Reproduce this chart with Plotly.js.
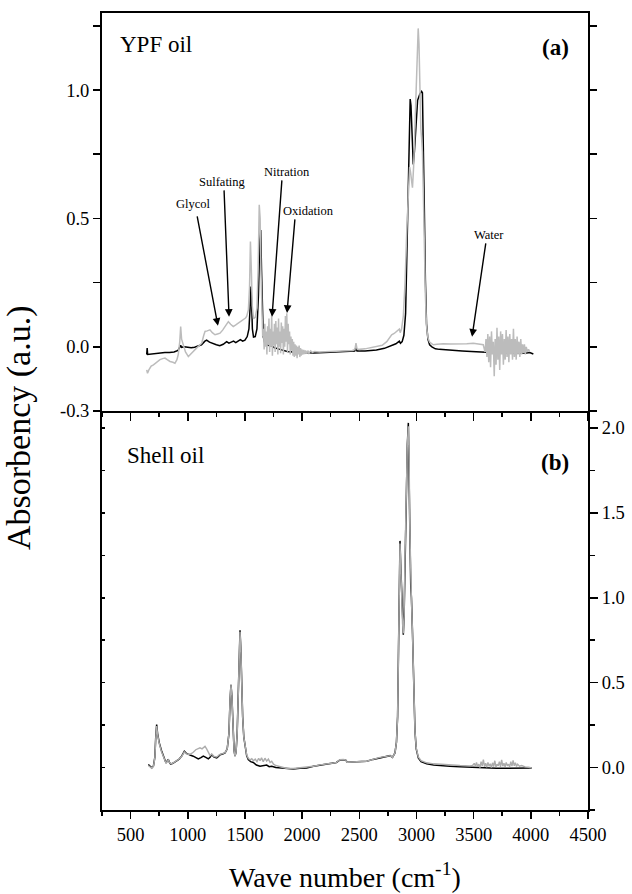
<!DOCTYPE html>
<html>
<head>
<meta charset="utf-8">
<script src="https://cdn.plot.ly/plotly-3.0.1.min.js"></script>
<style>html,body{margin:0;padding:0;background:#fff;}#chart{width:632px;height:894px;}</style>
</head>
<body>
<div id="chart"></div>
<script>
// ---------- Panel (a): YPF oil ----------
const ypfBlackW = [641,645,649,680,720,760,800,840,880,915,930,938,945,970,1000,1030,1060,1090,1120,1150,1165,1190,1220,1250,1280,1310,1340,1360,1380,1400,1420,1445,1460,1480,1500,1520,1535,1545,1552,1558,1565,1575,1590,1605,1618,1630,1638,1645,1652,1660,1675,1700,1730,1760,1790,1830,1870,1920,2000,2100,2200,2300,2400,2460,2470,2480,2550,2650,2720,2780,2820,2850,2860,2875,2890,2905,2920,2935,2945,2952,2962,2972,2982,2995,3010,3030,3045,3052,3060,3068,3078,3088,3100,3115,3135,3165,3200,3250,3320,3400,3480,3560,3650,3750,3850,3950,3990,4022];
const ypfBlackA = [-0.030,-0.005,-0.030,-0.028,-0.026,-0.024,-0.022,-0.022,-0.020,-0.014,-0.004,0.006,-0.002,0.000,-0.002,-0.004,-0.002,0.002,0.008,0.022,0.026,0.018,0.012,0.008,0.004,0.010,0.020,0.014,0.018,0.022,0.016,0.024,0.028,0.022,0.026,0.040,0.070,0.150,0.235,0.180,0.070,0.038,0.040,0.070,0.200,0.420,0.455,0.300,0.120,0.040,0.012,0.006,0.004,-0.004,-0.008,-0.014,-0.018,-0.020,-0.022,-0.024,-0.022,-0.020,-0.019,-0.016,-0.004,-0.016,-0.016,-0.012,-0.006,0.004,0.012,0.022,0.014,0.020,0.045,0.130,0.420,0.780,0.965,0.940,0.780,0.710,0.760,0.880,0.960,0.985,0.995,0.990,0.820,0.560,0.260,0.090,0.030,0.008,0.000,-0.008,-0.010,-0.012,-0.014,-0.016,-0.018,-0.021,-0.022,-0.023,-0.024,-0.025,-0.022,-0.028];

const ypfGrayW = [641,648,660,680,700,720,740,757,780,801,820,845,870,888,905,917,930,938,946,961,980,1005,1025,1048,1070,1092,1110,1122,1140,1151,1170,1194,1215,1238,1260,1282,1305,1326,1340,1355,1375,1398,1420,1442,1465,1486,1505,1515,1530,1540,1548,1556,1564,1575,1590,1605,1615,1625,1633,1640,1648,1655,
1662,1668,1674,1680,1686,1692,1698,1704,1710,1716,1722,1728,1734,1740,1746,1752,1758,1764,1770,1776,1782,1788,1794,1800,1806,1812,1818,1824,1830,1836,1842,1848,1854,1860,1866,1872,1878,1884,1890,1896,1902,1908,1914,1920,1926,1932,1938,1944,1950,1956,1962,1968,1974,1980,1986,1992,1998,2006,2014,2022,2030,2040,2050,2060,2075,2090,2110,2150,2200,2250,2300,2350,2400,2440,2462,2471,2480,2500,2550,2600,2650,2700,2740,2765,2783,2805,2827,2840,2850,2858,2870,2885,2900,2915,2930,2940,2948,2956,2965,2975,2985,2995,3005,3015,3022,3030,3038,3045,3052,3060,3068,3078,3088,3100,3115,3135,3147,3180,3235,3300,3381,3440,3497,3540,3584,
3600,3608,3616,3624,3632,3640,3648,3656,3664,3672,3680,3688,3696,3704,3712,3720,3728,3736,3744,3752,3760,3768,3776,3784,3792,3800,3808,3816,3824,3832,3840,3848,3856,3864,3872,3880,3888,3896,3904,3912,3920,3928,3936,3944,3952,3960,3970,3980,3990];
const ypfGrayA = [-0.090,-0.103,-0.090,-0.075,-0.070,-0.062,-0.055,-0.050,-0.046,-0.044,-0.050,-0.057,-0.060,-0.064,-0.050,-0.030,0.020,0.079,0.030,0.008,-0.020,-0.038,-0.030,-0.018,-0.008,0.001,0.010,0.014,0.045,0.060,0.062,0.066,0.055,0.047,0.050,0.053,0.065,0.079,0.090,0.098,0.088,0.079,0.085,0.092,0.098,0.105,0.112,0.118,0.144,0.230,0.410,0.300,0.160,0.110,0.115,0.150,0.300,0.553,0.500,0.300,0.120,0.040,
0.070,-0.010,0.090,0.000,0.060,-0.030,0.080,0.010,0.110,-0.020,0.070,0.000,0.125,-0.035,0.060,0.005,0.090,-0.020,0.100,0.010,0.075,-0.030,0.110,0.000,0.060,-0.025,0.095,0.015,0.080,-0.030,0.070,0.000,0.120,0.020,0.131,-0.020,0.090,0.010,0.060,-0.030,0.040,-0.015,0.030,-0.035,0.020,-0.040,0.010,-0.035,0.005,-0.044,0.000,-0.030,0.005,-0.040,-0.005,-0.035,-0.010,-0.030,-0.012,-0.028,-0.014,-0.026,-0.015,-0.025,-0.016,-0.022,-0.018,-0.020,-0.019,-0.018,-0.018,-0.016,-0.016,-0.014,-0.010,0.014,-0.008,-0.010,-0.008,-0.004,0.000,0.006,0.020,0.035,0.047,0.052,0.060,0.062,0.069,0.055,0.070,0.120,0.250,0.450,0.600,0.700,0.680,0.640,0.620,0.700,0.850,1.000,1.150,1.240,1.180,0.980,0.850,0.810,0.760,0.600,0.400,0.200,0.080,0.035,0.018,0.010,0.008,0.010,0.012,0.011,0.010,0.012,0.014,0.012,0.008,
-0.020,0.030,-0.040,0.050,-0.060,0.040,-0.080,0.060,-0.030,0.020,-0.115,0.030,-0.070,0.074,-0.050,0.040,-0.090,0.060,-0.030,0.050,-0.070,0.030,-0.050,0.065,-0.040,0.040,-0.060,0.050,-0.030,0.030,-0.050,0.070,-0.040,0.030,-0.050,0.040,-0.030,0.020,-0.040,0.030,-0.030,0.010,-0.025,0.010,-0.030,0.000,-0.020,-0.010,-0.020];

// ---------- Panel (b): Shell oil ----------
const shellBlackW = [655,670,685,700,712,720,728,736,751,770,786,800,810,822,830,840,850,870,903,925,947,962,970,985,1005,1025,1048,1070,1092,1115,1136,1158,1180,1195,1210,1230,1253,1268,1282,1305,1326,1345,1360,1370,1378,1386,1395,1405,1413,1422,1432,1442,1450,1457,1464,1472,1480,1490,1500,1515,1529,1550,1573,1600,1632,1660,1690,1712,1734,1770,1807,1860,1923,1981,2040,2100,2156,2220,2273,2300,2331,2360,2380,2395,2450,2500,2565,2620,2681,2740,2769,2790,2812,2825,2835,2843,2850,2856,2862,2870,2878,2885,2892,2900,2910,2920,2929,2936,2942,2950,2956,2965,2972,2978,2987,2998,3016,3040,3089,3150,3220,3293,3380,3468,3556,3620,3700,3800,3900,4008];
const shellBlackA = [0.018,0.010,-0.002,0.010,0.060,0.180,0.253,0.200,0.145,0.100,0.067,0.040,0.027,0.040,0.047,0.030,0.020,0.025,0.037,0.050,0.067,0.090,0.096,0.085,0.076,0.072,0.067,0.060,0.051,0.058,0.067,0.060,0.051,0.060,0.076,0.062,0.057,0.066,0.076,0.080,0.086,0.110,0.200,0.400,0.488,0.420,0.240,0.100,0.067,0.090,0.200,0.420,0.700,0.808,0.700,0.450,0.300,0.180,0.125,0.070,0.047,0.035,0.030,0.015,0.008,0.012,0.015,0.005,0.008,0.000,-0.002,-0.006,-0.008,-0.004,-0.002,0.008,0.015,0.020,0.027,0.030,0.045,0.047,0.045,0.031,0.032,0.034,0.037,0.048,0.058,0.064,0.070,0.060,0.086,0.150,0.300,0.700,1.100,1.335,1.200,1.000,0.850,0.782,0.900,1.250,1.650,1.900,2.030,1.800,1.400,1.070,1.000,0.800,0.600,0.450,0.214,0.110,0.057,0.035,0.022,0.015,0.010,0.008,0.005,0.002,-0.002,-0.003,-0.004,-0.004,-0.003,-0.002];

const shellGrayW = [655,670,685,700,712,720,728,736,751,770,786,800,810,822,830,840,850,870,903,925,947,962,970,985,1005,1025,1048,1070,1092,1107,1125,1140,1151,1165,1180,1195,1210,1230,1253,1268,1282,1305,1326,1345,1360,1370,1378,1386,1395,1405,1413,1422,1432,1442,1450,1457,1464,1472,1480,1490,1500,1515,1529,1545,1560,1575,1590,1605,1620,1632,1645,1660,1675,1690,1705,1720,1734,1750,1770,1790,1807,1860,1923,1981,2040,2100,2156,2220,2273,2300,2331,2360,2380,2395,2450,2500,2565,2620,2681,2740,2769,2790,2812,2825,2835,2843,2850,2856,2862,2870,2878,2885,2892,2900,2910,2920,2929,2936,2942,2950,2956,2965,2972,2978,2987,2998,3016,3040,3089,3150,3220,3293,3380,3468,
3491,3505,3515,3525,3535,3545,3555,3565,3575,3585,3595,3605,3615,3625,3635,3645,3655,3665,3675,3685,3695,3705,3715,3725,3735,3745,3755,3765,3775,3785,3795,3805,3815,3825,3835,3845,3855,3865,3875,3885,3900,3920,3950,3980,4008];
const shellGrayA = [0.012,0.005,-0.004,0.008,0.055,0.170,0.245,0.195,0.140,0.095,0.062,0.035,0.025,0.038,0.045,0.030,0.022,0.026,0.038,0.050,0.065,0.085,0.092,0.082,0.078,0.080,0.090,0.105,0.112,0.116,0.110,0.120,0.125,0.110,0.086,0.070,0.080,0.065,0.062,0.070,0.078,0.082,0.088,0.110,0.200,0.400,0.488,0.420,0.240,0.100,0.067,0.090,0.200,0.420,0.700,0.800,0.700,0.450,0.300,0.180,0.125,0.075,0.055,0.045,0.052,0.040,0.050,0.035,0.055,0.040,0.057,0.035,0.055,0.038,0.050,0.030,0.037,0.020,0.012,0.008,0.002,-0.004,-0.006,-0.002,0.000,0.008,0.016,0.020,0.027,0.030,0.046,0.047,0.045,0.031,0.032,0.034,0.037,0.048,0.060,0.066,0.070,0.060,0.086,0.150,0.300,0.700,1.100,1.320,1.200,1.000,0.850,0.790,0.900,1.250,1.650,1.900,2.010,1.800,1.400,1.060,0.990,0.800,0.600,0.450,0.214,0.115,0.062,0.040,0.028,0.022,0.018,0.014,0.012,0.010,
0.012,0.025,0.008,0.030,0.005,0.020,0.000,0.035,0.010,0.047,0.005,0.025,0.002,0.030,0.008,0.022,0.000,0.028,0.006,0.040,0.004,0.020,0.010,0.035,0.004,0.045,0.008,0.025,0.005,0.030,0.010,0.020,0.004,0.035,0.008,0.042,0.010,0.028,0.006,0.020,0.008,0.012,0.004,0.002,-0.002];

// ---------- Tick labels ----------
const topTickVals = [-0.25, 0, 0.25, 0.5, 0.75, 1.0, 1.25];
const topTickText = ['-0.3', '0.0', '', '0.5', '', '1.0', ''];
const botTickVals = [0, 0.5, 1.0, 1.5, 2.0];
const botTickText = ['0.0', '0.5', '1.0', '1.5', '2.0'];

// ---------- Annotation labels ----------
const labelText = ['Glycol', 'Sulfating', 'Nitration', 'Oxidation', 'Water'];
const labelW = [1046, 1308, 1868, 2060, 3634];
const labelA = [0.556, 0.642, 0.681, 0.529, 0.436];
const arrowTipW = [1264, 1361, 1737, 1868, 3486];
const arrowTipA = [0.082, 0.117, 0.117, 0.132, 0.039];
const arrowTailW = [1080, 1317, 1824, 1938, 3608];
const arrowTailA = [0.514, 0.615, 0.654, 0.502, 0.409];

const SERIF = 'Liberation Serif, Times New Roman, serif';
const GRAY = '#bcbcbc';

const traces = [
  {x: ypfBlackW, y: ypfBlackA, xaxis: 'x2', yaxis: 'y', mode: 'lines', line: {color: '#000', width: 1.5}, hoverinfo: 'skip'},
  {x: ypfGrayW, y: ypfGrayA, xaxis: 'x2', yaxis: 'y', mode: 'lines', line: {color: GRAY, width: 1.5}, hoverinfo: 'skip'},
  {x: shellBlackW, y: shellBlackA, xaxis: 'x', yaxis: 'y2', mode: 'lines', line: {color: '#000', width: 1.5}, hoverinfo: 'skip'},
  {x: shellGrayW, y: shellGrayA, xaxis: 'x', yaxis: 'y3', mode: 'lines', line: {color: '#acacac', width: 1.4}, hoverinfo: 'skip'}
];

const split = (810 - 411) / 797;
const axBase = {showgrid: false, zeroline: false, showline: true, linecolor: '#000', linewidth: 2, tickcolor: '#000', tickwidth: 1.5, tickfont: {family: SERIF, size: 18.5, color: '#000'}};

const annotations = [];
for (let i = 0; i < labelText.length; i++) {
  annotations.push({xref: 'x2', yref: 'y', x: labelW[i], y: labelA[i], text: labelText[i], showarrow: false,
    font: {family: SERIF, size: 12.5, color: '#000'}, xanchor: 'center', yanchor: 'middle'});
  annotations.push({xref: 'x2', yref: 'y', x: arrowTipW[i], y: arrowTipA[i], text: '', showarrow: true,
    axref: 'x2', ayref: 'y', ax: arrowTailW[i], ay: arrowTailA[i], arrowhead: 2, arrowsize: 1.1, arrowwidth: 1.4, arrowcolor: '#000', standoff: 0});
}
annotations.push(
  {xref: 'paper', yref: 'paper', x: (118 - 102) / 486, y: (810 - 44) / 797, text: 'YPF oil', showarrow: false, xanchor: 'left', yanchor: 'middle', font: {family: SERIF, size: 23, color: '#000'}},
  {xref: 'paper', yref: 'paper', x: (571 - 102) / 486, y: (810 - 48) / 797, text: '<b>(a)</b>', showarrow: false, xanchor: 'right', yanchor: 'middle', font: {family: SERIF, size: 23, color: '#000'}},
  {xref: 'paper', yref: 'paper', x: (125 - 102) / 486, y: (810 - 455) / 797, text: 'Shell oil', showarrow: false, xanchor: 'left', yanchor: 'middle', font: {family: SERIF, size: 23, color: '#000'}},
  {xref: 'paper', yref: 'paper', x: (571 - 102) / 486, y: (810 - 462) / 797, text: '<b>(b)</b>', showarrow: false, xanchor: 'right', yanchor: 'middle', font: {family: SERIF, size: 23, color: '#000'}},
  {xref: 'paper', yref: 'paper', x: (345 - 102) / 486, y: (810 - 875) / 797, text: 'Wave number (cm<sup>-1</sup>)', showarrow: false, xanchor: 'center', yanchor: 'middle', font: {family: SERIF, size: 28, color: '#000'}},
  {xref: 'paper', yref: 'paper', x: (19 - 102) / 486, y: (810 - 428) / 797, text: 'Absorbency (a.u.)', textangle: -90, showarrow: false, xanchor: 'center', yanchor: 'middle', font: {family: SERIF, size: 34, color: '#000'}}
);

const layout = {
  width: 632, height: 894,
  margin: {l: 102, r: 44, t: 13, b: 84},
  paper_bgcolor: '#fff', plot_bgcolor: '#fff',
  showlegend: false,
  font: {family: SERIF, color: '#000'},
  xaxis: Object.assign({}, axBase, {anchor: 'y2', range: [250, 4500], tickmode: 'linear', tick0: 500, dtick: 500,
    ticks: 'outside', ticklen: 7, minor: {tickmode: 'linear', tick0: 250, dtick: 250, ticks: 'outside', ticklen: 4, tickcolor: '#000', tickwidth: 1.5}}),
  xaxis2: Object.assign({}, axBase, {anchor: 'y', matches: 'x', range: [250, 4500], tickmode: 'linear', tick0: 500, dtick: 500,
    ticks: 'outside', ticklen: 8, showticklabels: false, mirror: true,
    minor: {tickmode: 'linear', tick0: 250, dtick: 250, ticks: 'outside', ticklen: 4, tickcolor: '#000', tickwidth: 1.5}}),
  yaxis: Object.assign({}, axBase, {domain: [split, 1], anchor: 'x2', range: [-0.25, 1.3], tickmode: 'array',
    tickvals: topTickVals, ticktext: topTickText, ticks: 'outside', ticklen: 7, mirror: 'ticks'}),
  yaxis2: Object.assign({}, axBase, {domain: [0, split], anchor: 'x', range: [-0.25, 2.1], tickmode: 'linear', tick0: 0, dtick: 0.25,
    ticks: 'inside', ticklen: 3, showticklabels: false}),
  yaxis3: Object.assign({}, axBase, {overlaying: 'y2', side: 'right', anchor: 'x', range: [-0.25, 2.1], tickmode: 'array',
    tickvals: botTickVals, ticktext: botTickText, ticks: 'outside', ticklen: 8,
    minor: {tickmode: 'linear', tick0: 0.25, dtick: 0.5, ticks: 'outside', ticklen: 5, tickcolor: '#000', tickwidth: 1.5}}),
  annotations: annotations
};

Plotly.newPlot('chart', traces, layout, {staticPlot: true, displayModeBar: false});
</script>
</body>
</html>
